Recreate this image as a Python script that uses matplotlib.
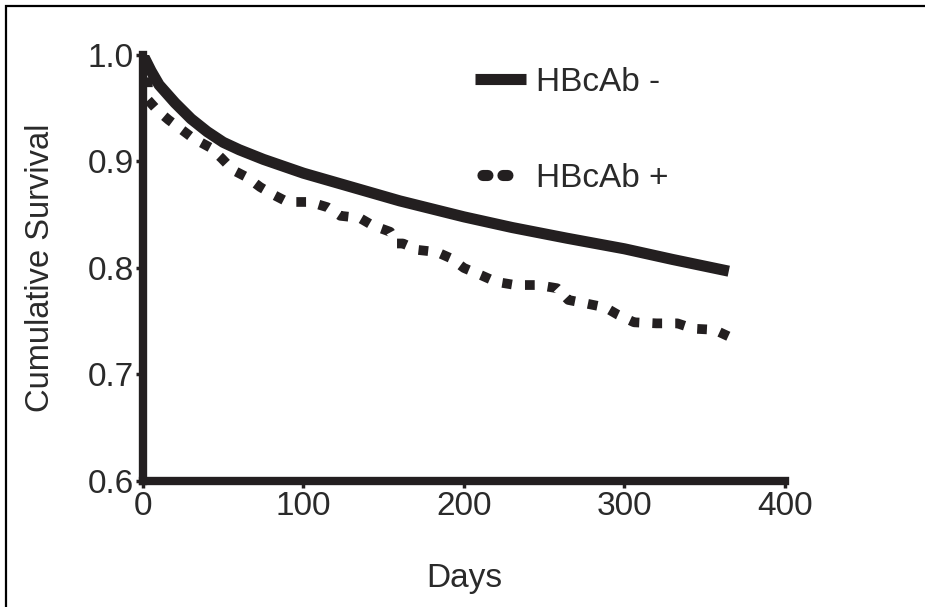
import matplotlib
matplotlib.use("Agg")
import matplotlib.pyplot as plt
from matplotlib.lines import Line2D
from matplotlib.patches import Rectangle

plt.rcParams['font.family'] = ['Liberation Sans', 'DejaVu Sans']

# HBcAb - (solid)
days_neg = [0, 5, 10, 20, 30, 40, 50, 60, 75, 100, 130, 160, 200, 230, 264, 300, 330, 365]
surv_neg = [1.0, 0.985, 0.972, 0.955, 0.940, 0.928, 0.918, 0.911, 0.902, 0.889,
            0.876, 0.863, 0.848, 0.838, 0.828, 0.818, 0.808, 0.797]

# HBcAb + (dotted)
days_pos = [0, 3, 3, 9, 16, 24, 31, 42, 49, 56, 65, 73, 81, 90, 104, 115, 123, 135,
            143, 154, 158, 162, 171, 183, 192, 200, 211, 220, 232, 246, 258, 265,
            275, 288, 296, 306, 320, 333, 343, 356, 366]
surv_pos = [1.0, 0.975, 0.958, 0.948, 0.939, 0.930, 0.922, 0.913, 0.903, 0.892, 0.885,
            0.876, 0.869, 0.862, 0.862, 0.857, 0.849, 0.847, 0.840, 0.834, 0.823, 0.823,
            0.817, 0.815, 0.809, 0.800, 0.793, 0.787, 0.784, 0.784, 0.781, 0.770, 0.767,
            0.763, 0.756, 0.749, 0.748, 0.748, 0.743, 0.742, 0.735]

labels = ['HBcAb -', 'HBcAb +']
xticks = [0, 100, 200, 300, 400]
yticks = [0.6, 0.7, 0.8, 0.9, 1.0]

ink = '#231f20'
txt = '#2a2a2a'

fig = plt.figure(figsize=(9.25, 6.07), dpi=100)
ax = fig.add_axes([0.1546, 0.2076, 0.694, 0.7018])

ax.plot(days_neg, surv_neg, color=ink, lw=8, solid_capstyle='butt', solid_joinstyle='round')
ax.plot(days_pos, surv_pos, color=ink, lw=7, linestyle=(0, (1, 1.35)), dash_capstyle='butt')

ax.set_xlim(0, 400)
ax.set_ylim(0.6, 1.0)
ax.set_xticks(xticks)
ax.set_yticks(yticks)
ax.set_xticklabels([str(t) for t in xticks])
ax.set_yticklabels(['%.1f' % t for t in yticks])

for s in ['top', 'right']:
    ax.spines[s].set_visible(False)
for s in ['left', 'bottom']:
    ax.spines[s].set_linewidth(6)
    ax.spines[s].set_color(ink)

ax.tick_params(axis='both', length=5, width=2.5, color=ink, labelsize=24,
               labelcolor=txt)
ax.tick_params(axis='y', pad=1.5)
ax.tick_params(axis='x', pad=2)

ax.set_xlabel('Days', fontsize=24, color=txt)
ax.set_ylabel('Cumulative Survival', fontsize=23.5, color=txt)
ax.xaxis.set_label_coords(0.5, -0.193)
ax.yaxis.set_label_coords(-0.135, 0.5)
ax.yaxis.label.set_va('bottom')

h_neg = Line2D([], [], color=ink, lw=8, solid_capstyle='butt')
h_pos = Line2D([], [], color=ink, lw=8, linestyle=(7.58, (0.45, 1.35, 0.45, 6)),
               dash_capstyle='round')
ax.legend([h_neg, h_pos], labels, loc='upper left', bbox_to_anchor=(0.471, 1.042),
          frameon=False, fontsize=24, handlelength=1.51, handletextpad=0.32,
          labelspacing=1.95, labelcolor=txt)

# outer border (cropped at right and bottom in the reference)
fig.patches.append(Rectangle((6 / 925, -0.1), 1.2, 1.1 - 6 / 607, transform=fig.transFigure,
                             fill=False, edgecolor='black', lw=1.6))

fig.savefig('out.png', dpi=100)
